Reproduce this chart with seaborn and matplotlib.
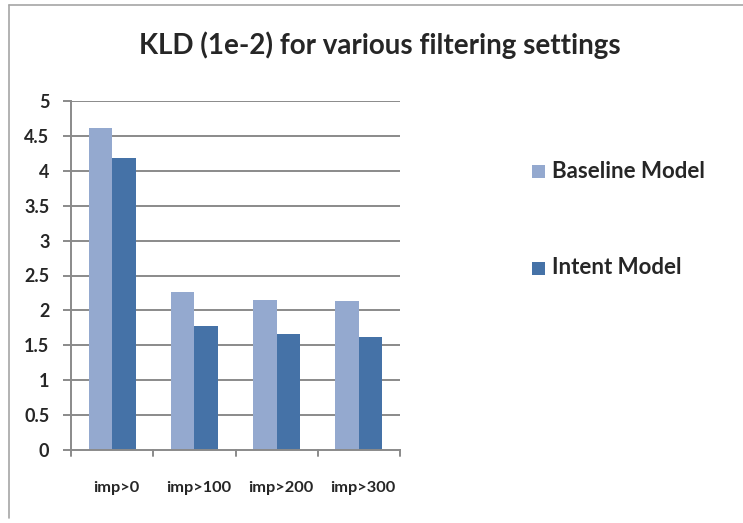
import matplotlib
matplotlib.use("Agg")
import matplotlib.pyplot as plt
from matplotlib.lines import Line2D
import matplotlib.transforms as mtransforms
import numpy as np
import pandas as pd
import seaborn as sns

categories = ["imp>0", "imp>100", "imp>200", "imp>300"]
baseline = [4.62, 2.26, 2.15, 2.13]
intent = [4.18, 1.78, 1.66, 1.62]
series_names = ["Baseline Model", "Intent Model"]
colors = ["#94A9CF", "#4572A7"]
yticks = [0, 0.5, 1, 1.5, 2, 2.5, 3, 3.5, 4, 4.5, 5]
ytick_labels = ["0", "0.5", "1", "1.5", "2", "2.5", "3", "3.5", "4", "4.5", "5"]
title = "KLD (1e-2) for various filtering settings"

df = pd.DataFrame({
    "setting": categories * 2,
    "model": [series_names[0]] * 4 + [series_names[1]] * 4,
    "kld": baseline + intent,
})

sns.set_style("white")
plt.rcParams["font.family"] = ["Lato", "DejaVu Sans"]

fig = plt.figure(figsize=(7.43, 5.23), dpi=100)
ax = fig.add_axes([71 / 743, 1 - 450 / 523, (400 - 71) / 743, (450 - 101) / 523])

sns.barplot(data=df, x="setting", y="kld", hue="model", palette=colors,
            width=0.57, gap=0, saturation=1, legend=False, ax=ax, zorder=3)
for p in ax.patches:
    p.set_edgecolor("none")

grid_color = "#8A8A8A"
ax.set_ylim(0, 5)
ax.set_xlim(-0.5, 3.5)
ax.set_yticks(yticks)
ax.set_yticklabels(ytick_labels)
for y in yticks[1:]:
    ax.axhline(y, color=grid_color, lw=1.4, zorder=1)

for side in ["top", "right"]:
    ax.spines[side].set_visible(False)
for side in ["left", "bottom"]:
    ax.spines[side].set_color(grid_color)
    ax.spines[side].set_linewidth(1.4)
    ax.spines[side].set_zorder(4)

ax.set_xlabel("")
ax.set_ylabel("")
ax.tick_params(axis="y", direction="out", length=5.5, width=1.4, color=grid_color,
               pad=10, labelsize=13, left=True)
ax.tick_params(axis="x", length=0, pad=22, labelsize=11.8)
for lbl in ax.get_yticklabels() + ax.get_xticklabels():
    lbl.set_fontweight("bold")
# category labels sit a touch right of centre
shift = mtransforms.ScaledTranslation(4 / 100, 0, fig.dpi_scale_trans)
for lbl in ax.get_xticklabels():
    lbl.set_transform(lbl.get_transform() + shift)

# category separator ticks under the x axis
for xb in np.arange(-0.5, 4.0, 1.0):
    ax.plot([xb, xb], [0, -0.08], color=grid_color, lw=1.4, clip_on=False,
            transform=ax.transData, zorder=4)

fig.text(380 / 743, 1 - 45 / 523, title, ha="center", va="center",
         fontsize=20, fontweight="bold")

# legend on the right
for name, col, ypix in zip(series_names, colors, [171, 268]):
    fig.patches.append(plt.Rectangle((532 / 743, 1 - (ypix + 7) / 523), 13 / 743, 13 / 523,
                                     transform=fig.transFigure, facecolor=col,
                                     edgecolor="none"))
    fig.text(552 / 743, 1 - ypix / 523, name, ha="left", va="center",
             fontsize=16, fontweight="bold")

# chart frame
frame_color = "#A6A6A6"
fig.add_artist(Line2D([9 / 743, 9 / 743], [1 - 518 / 523, 1 - 5 / 523],
                      transform=fig.transFigure, color=frame_color, lw=1.2))
fig.add_artist(Line2D([9 / 743, 1.0], [1 - 5 / 523, 1 - 5 / 523],
                      transform=fig.transFigure, color=frame_color, lw=1.2))

fig.savefig("out.png", dpi=100, facecolor="white")
